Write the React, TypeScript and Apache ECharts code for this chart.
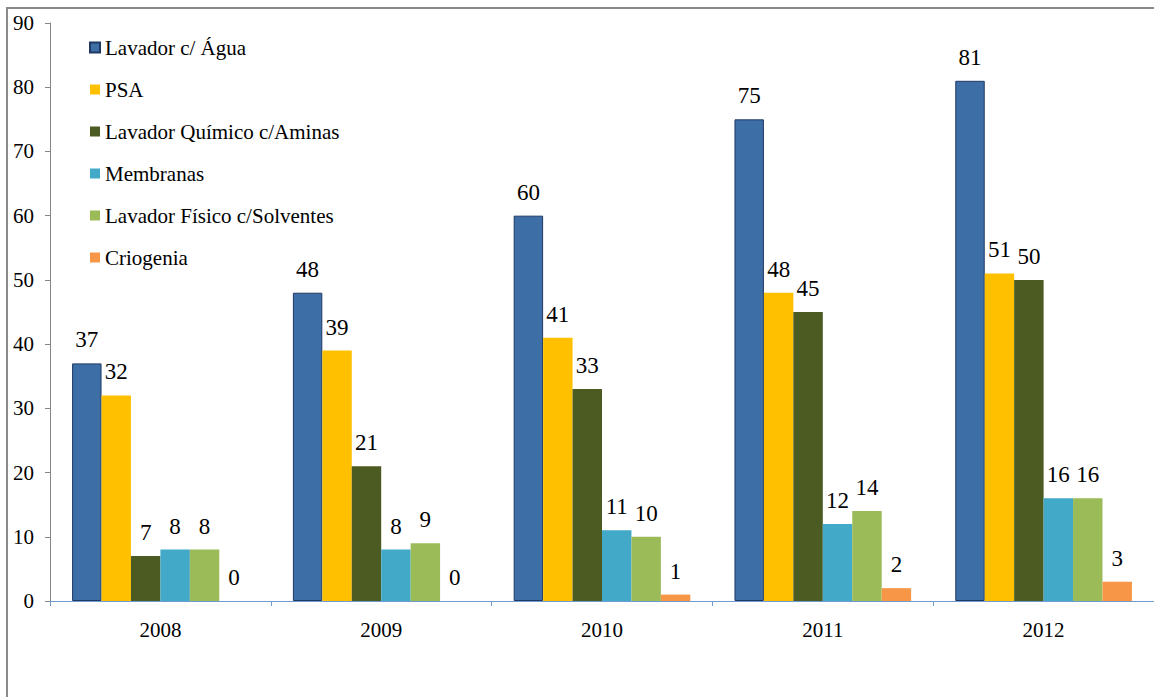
import React, { useEffect, useRef } from "react";
import * as echarts from "echarts";

const years = ["2008", "2009", "2010", "2011", "2012"];
const seriesNames = [
  "Lavador c/ Água",
  "PSA",
  "Lavador Químico c/Aminas",
  "Membranas",
  "Lavador Físico c/Solventes",
  "Criogenia",
];
const lavadorAgua = [37, 48, 60, 75, 81];
const psa = [32, 39, 41, 48, 51];
const lavadorQuimico = [7, 21, 33, 45, 50];
const membranas = [8, 8, 11, 12, 16];
const lavadorFisico = [8, 9, 10, 14, 16];
const criogenia = [0, 0, 1, 2, 3];
const colors = ["#3D6EA5", "#FFC000", "#4B5B22", "#43A9C8", "#9BBB59", "#F79646"];

const FONT = "Times New Roman, Liberation Serif, DejaVu Serif, serif";

export default function App() {
  const ref = useRef<HTMLDivElement>(null);
  useEffect(() => {
    if (!ref.current) return;
    const chart = echarts.init(ref.current, null, { renderer: "svg" });
    const data = [lavadorAgua, psa, lavadorQuimico, membranas, lavadorFisico, criogenia];
    chart.setOption({
      animation: false,
      backgroundColor: "#ffffff",
      textStyle: { fontFamily: FONT },
      graphic: [
        {
          type: "rect",
          z: 0,
          shape: { x: 7, y: 8, width: 1400, height: 1000 },
          style: { fill: "none", stroke: "#8a8a8a", lineWidth: 2 },
        },
      ],
      legend: {
        orient: "vertical",
        left: 84,
        top: 32,
        itemWidth: 10,
        itemHeight: 10,
        itemGap: 21,
        icon: "rect",
        textStyle: { fontFamily: FONT, fontSize: 21, color: "#000", lineHeight: 21 },
        data: seriesNames,
      },
      grid: { left: 50, top: 23, width: 1108, height: 578, containLabel: false },
      xAxis: {
        type: "category",
        data: years,
        axisLine: { show: true, lineStyle: { color: "#6F9BD1", width: 1 } },
        axisTick: { show: true, length: 5, lineStyle: { color: "#6F9BD1" } },
        axisLabel: { fontFamily: FONT, fontSize: 21, color: "#000", margin: 18 },
      },
      yAxis: {
        type: "value",
        min: 0,
        max: 90,
        interval: 10,
        axisLine: { show: true, lineStyle: { color: "#868686", width: 1 } },
        axisTick: { show: true, length: 5, lineStyle: { color: "#868686" } },
        splitLine: { show: false },
        axisLabel: { fontFamily: FONT, fontSize: 21, color: "#000", margin: 16 },
      },
      series: seriesNames.map((name, i) => ({
        name,
        type: "bar",
        data: data[i],
        barGap: "0%",
        barCategoryGap: "20%",
        itemStyle:
          i === 0
            ? { color: colors[i], borderColor: "#1F3864", borderWidth: 1 }
            : { color: colors[i], borderWidth: 0 },
        label: {
          show: true,
          position: "top",
          distance: 12,
          fontFamily: FONT,
          fontSize: 23,
          color: "#000",
        },
      })),
    });
    return () => chart.dispose();
  }, []);
  return (
    <div
      ref={ref}
      style={{ position: "absolute", left: 0, top: 0, width: 1154, height: 697 }}
    />
  );
}
